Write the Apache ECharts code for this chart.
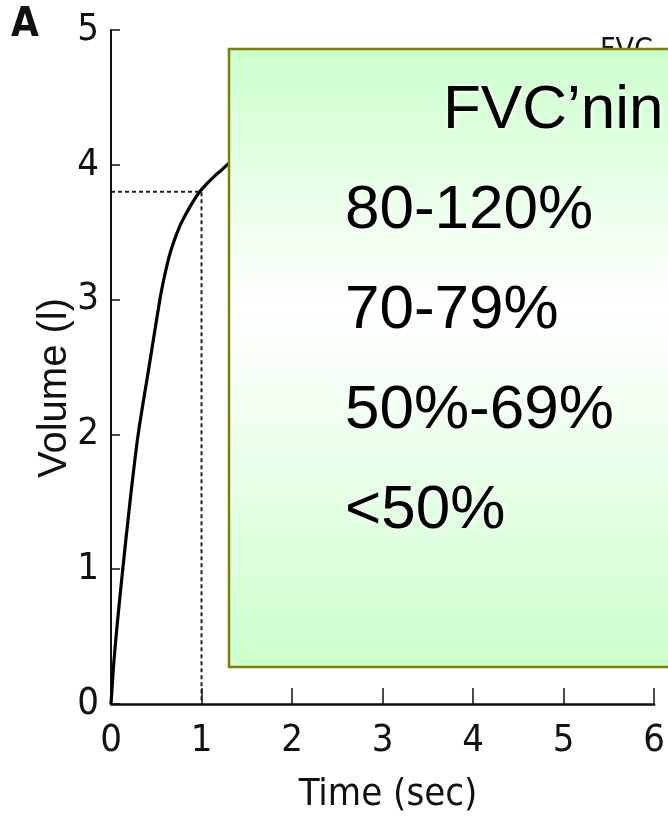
<!DOCTYPE html>
<html>
<head>
<meta charset="utf-8">
<title>Spirometry volume-time curve</title>
<script src="https://cdn.jsdelivr.net/npm/echarts@6/dist/echarts.min.js"></script>
<style>
  html, body { margin: 0; padding: 0; background: #fff; }
  #chart { width: 668px; height: 820px; }
</style>
</head>
<body>
<div id="chart"></div>
<script>
// volume-time curve (sec, litres)
const curveTime = [0, 0.01, 0.03, 0.07, 0.13, 0.21, 0.3, 0.42, 0.54, 0.58, 0.62, 0.66, 0.71, 0.77, 0.84, 0.91, 0.98, 1.06, 1.15, 1.22, 1.3];
const curveVolume = [0, 0.1, 0.3, 0.6, 1.0, 1.5, 2.0, 2.5, 3.0, 3.14, 3.26, 3.36, 3.46, 3.56, 3.65, 3.73, 3.8, 3.86, 3.92, 3.96, 4.01];
// dotted guide: FEV1 read at 1 second
const guideTime = [0, 1, 1];
const guideVolume = [3.8, 3.8, 0];

const xTicks = [0, 1, 2, 3, 4, 5, 6];
const yTicks = [0, 1, 2, 3, 4, 5];

const boxLines = ["80-120%", "70-79%", "50%-69%", "<50%"];
const boxTitle = "FVC’nin";

const narrow = "'Liberation Sans Narrow', 'DejaVu Sans Condensed', 'Liberation Sans', sans-serif";
const sans = "'Liberation Sans', Arial, sans-serif";

const chart = echarts.init(document.getElementById("chart"));

const txtShadow = { textShadowColor: "rgba(255,255,255,0.9)", textShadowBlur: 4, textShadowOffsetX: 1, textShadowOffsetY: 1 };

const graphics = [
  { type: "text", left: 11, top: 6, z: 5,
    style: { text: "A", font: "bold 40px " + narrow, fill: "#111" } },
  { type: "text", x: 55, y: 388, rotation: Math.PI / 2, z: 5,
    style: { text: "Volume (l)", font: "40px " + sans, fill: "#111", align: "center", verticalAlign: "middle" } },
  { type: "text", x: 388, y: 795, z: 5,
    style: { text: "Time (sec)", font: "38px " + narrow, fill: "#111", align: "center", verticalAlign: "middle" } },
  // label sitting behind the box, only its top shows
  { type: "text", x: 600, y: 36, z: 5,
    style: { text: "FVC", font: "30px " + narrow, fill: "#111", align: "left", verticalAlign: "top" } },
  { type: "rect", z: 50,
    shape: { x: 229, y: 49, width: 470, height: 618 },
    style: {
      fill: new echarts.graphic.LinearGradient(0, 0, 0, 1, [
        { offset: 0, color: "#ccffcc" },
        { offset: 0.42, color: "#ffffff" },
        { offset: 1, color: "#ccffcc" }
      ]),
      stroke: "#808000", lineWidth: 2.5
    } },
  { type: "text", x: 443, y: 111, z: 60,
    style: Object.assign({ text: boxTitle, font: "62px " + sans, fill: "#000", align: "left", verticalAlign: "middle" }, txtShadow) }
];
boxLines.forEach(function (t, i) {
  graphics.push({ type: "text", x: 345, y: 211 + i * 100, z: 60,
    style: Object.assign({ text: t, font: "62px " + sans, fill: "#000", align: "left", verticalAlign: "middle" }, txtShadow) });
});

const option = {
  animation: false,
  backgroundColor: "#fff",
  grid: { left: 111, right: 12, top: 30, bottom: 116 },
  xAxis: {
    type: "value", min: 0, max: 6, interval: 1,
    axisLine: { lineStyle: { color: "#111", width: 2.5 } },
    axisTick: { inside: true, length: 16, lineStyle: { color: "#111", width: 1.5 } },
    axisLabel: { color: "#111", fontFamily: narrow, fontSize: 38, fontWeight: 500, margin: 18,
      formatter: function (v) { return xTicks.indexOf(v) >= 0 ? String(v) : ""; } },
    splitLine: { show: false }
  },
  yAxis: {
    type: "value", min: 0, max: 5, interval: 1,
    axisLine: { show: true, lineStyle: { color: "#111", width: 2 } },
    axisTick: { show: true, inside: true, length: 9, lineStyle: { color: "#111", width: 1.5 } },
    axisLabel: { color: "#111", fontFamily: narrow, fontSize: 38, fontWeight: 500, margin: 12,
      formatter: function (v) { return yTicks.indexOf(v) >= 0 ? String(v) : ""; } },
    splitLine: { show: false }
  },
  series: [
    {
      type: "line", name: "guide", symbol: "none", silent: true, z: 2,
      data: guideTime.map(function (t, i) { return [t, guideVolume[i]]; }),
      lineStyle: { color: "#222", width: 2, type: [4, 3] }
    },
    {
      type: "line", name: "volume", symbol: "none", smooth: 0.3, z: 3,
      data: curveTime.map(function (t, i) { return [t, curveVolume[i]]; }),
      lineStyle: { color: "#000", width: 3.2 }
    }
  ],
  graphic: graphics
};
chart.setOption(option);
</script>
</body>
</html>
